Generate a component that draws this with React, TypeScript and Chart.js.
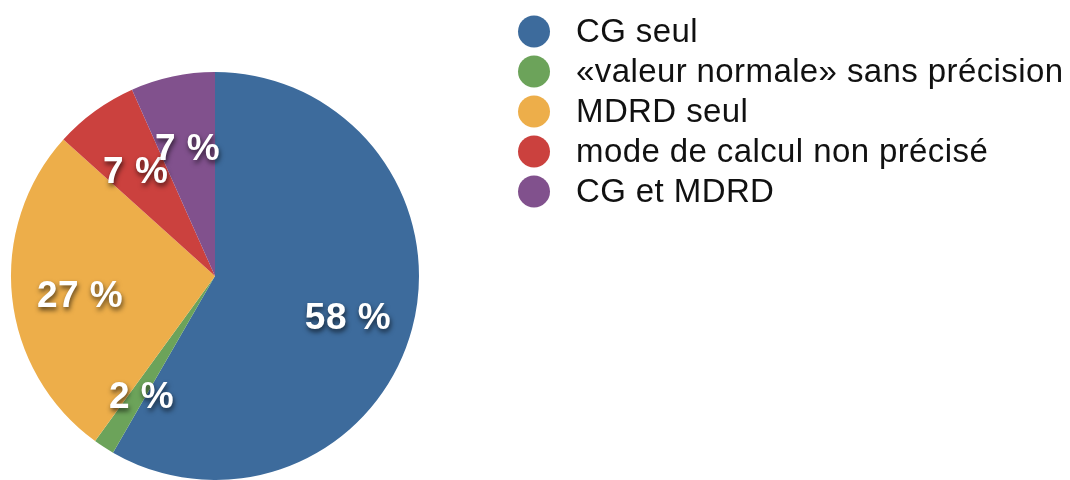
import React, { useEffect, useRef } from "react";
import { Chart, registerables } from "chart.js";

Chart.register(...registerables);

const categories = [
  "CG seul",
  "«valeur normale» sans précision",
  "MDRD seul",
  "mode de calcul non précisé",
  "CG et MDRD",
];
const counts = [35, 1, 16, 4, 4];
const percentLabels = ["58 %", "2 %", "27 %", "7 %", "7 %"];
const colors = ["#3d6b9c", "#6ca35a", "#edae4a", "#cb413e", "#81518d"];

const sliceLabelPlugin = {
  id: "sliceLabels",
  afterDatasetsDraw(chart: any) {
    const ctx = chart.ctx;
    const meta = chart.getDatasetMeta(0);
    ctx.save();
    ctx.font = "bold 37px 'Liberation Sans', Arial, sans-serif";
    (ctx as any).letterSpacing = "0.5px";
    ctx.fillStyle = "#ffffff";
    ctx.textAlign = "center";
    ctx.textBaseline = "middle";
    ctx.shadowColor = "rgba(0,0,0,0.65)";
    ctx.shadowBlur = 5;
    ctx.shadowOffsetX = 1;
    ctx.shadowOffsetY = 3;
    meta.data.forEach((arc: any, i: number) => {
      const { x, y, startAngle, endAngle, outerRadius } = arc.getProps(
        ["x", "y", "startAngle", "endAngle", "outerRadius"],
        true
      );
      const mid = (startAngle + endAngle) / 2;
      const r = outerRadius * 0.67;
      ctx.fillText(percentLabels[i], x + Math.cos(mid) * r + 1, y + Math.sin(mid) * r + 7);
    });
    ctx.restore();
  },
};

const legendPlugin = {
  id: "customLegend",
  afterDraw(chart: any) {
    const ctx = chart.ctx;
    ctx.save();
    ctx.font = "33px 'Liberation Sans', Arial, sans-serif";
    (ctx as any).letterSpacing = "0.4px";
    ctx.textAlign = "left";
    ctx.textBaseline = "middle";
    categories.forEach((c, i) => {
      const cy = 31.5 + i * 40;
      ctx.beginPath();
      ctx.arc(534, cy, 16, 0, Math.PI * 2);
      ctx.fillStyle = colors[i];
      ctx.fill();
      ctx.fillStyle = "#111111";
      ctx.fillText(c, 576, cy + 1);
    });
    ctx.restore();
  },
};

export default function App() {
  const canvasRef = useRef<HTMLCanvasElement | null>(null);

  useEffect(() => {
    if (!canvasRef.current) return;
    const chart = new Chart(canvasRef.current, {
      type: "pie",
      data: {
        labels: categories,
        datasets: [
          {
            data: counts,
            backgroundColor: colors,
            borderWidth: 0,
          },
        ],
      },
      options: {
        animation: false,
        responsive: false,
        maintainAspectRatio: false,
        layout: { padding: { left: 11, top: 72, right: 651, bottom: 0 } },
        plugins: {
          legend: { display: false },
          tooltip: { enabled: false },
        },
      },
      plugins: [sliceLabelPlugin, legendPlugin],
    });
    return () => chart.destroy();
  }, []);

  return (
    <div style={{ position: "fixed", left: 0, top: 0, width: 1070, height: 480, background: "#fff" }}>
      <canvas ref={canvasRef} width={1070} height={480} style={{ display: "block" }} />
    </div>
  );
}
